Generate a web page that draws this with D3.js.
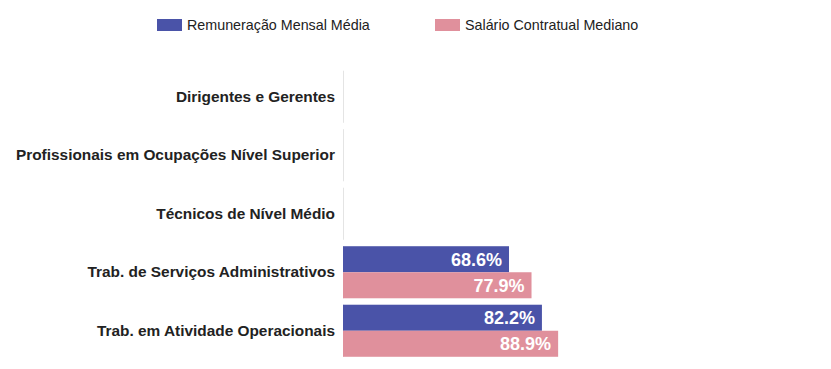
<!DOCTYPE html>
<html><head><meta charset="utf-8">
<script src="https://cdn.jsdelivr.net/npm/d3@7"></script>
<style>
html,body{margin:0;padding:0;background:#fff;}
svg{display:block;font-family:"Liberation Sans",Arial,sans-serif;}
</style></head>
<body><svg id="chart" width="831" height="369"></svg>
<script>
const categories = [
  "Dirigentes e Gerentes",
  "Profissionais em Ocupações Nível Superior",
  "Técnicos de Nível Médio",
  "Trab. de Serviços Administrativos",
  "Trab. em Atividade Operacionais"
];
const seriesNames = ["Remuneração Mensal Média", "Salário Contratual Mediano"];
const remuneracao = [null, null, null, 68.6, 82.2];
const salario = [null, null, null, 77.9, 88.9];
const colors = ["#4a53a8", "#e0909c"];

const svg = d3.select("#chart");
const x = d3.scaleLinear().domain([0, 200]).range([343, 827]);
const y = d3.scaleBand().domain(categories).range([67.5, 360]).paddingInner(0.11).paddingOuter(0.055);
const sub = d3.scaleBand().domain(seriesNames).range([0, y.bandwidth()]);

const series = [remuneracao, salario];

// faint baseline per category
svg.append("g").selectAll("line").data(categories).join("line")
  .attr("x1", x(0) + 0.5).attr("x2", x(0) + 0.5)
  .attr("y1", d => y(d)).attr("y2", d => y(d) + y.bandwidth())
  .attr("stroke", "#e4e4e4").attr("stroke-width", 1);

const groups = svg.append("g").selectAll("g").data(categories).join("g")
  .attr("transform", d => `translate(0,${y(d)})`);

groups.each(function(cat, i) {
  const g = d3.select(this);
  seriesNames.forEach((s, j) => {
    const v = series[j][i];
    if (v == null) return;
    g.append("rect")
      .attr("x", x(0)).attr("y", sub(s))
      .attr("width", x(v) - x(0)).attr("height", sub.bandwidth())
      .attr("fill", colors[j]);
    g.append("text")
      .attr("x", x(v) - 7).attr("y", sub(s) + sub.bandwidth() / 2)
      .attr("dy", "0.36em").attr("text-anchor", "end")
      .attr("fill", "#fff").attr("font-weight", "bold").attr("font-size", 18)
      .text(v.toFixed(1) + "%");
  });
});

// category axis labels
const yAxis = d3.axisLeft(y).tickSize(0).tickPadding(8);
const ya = svg.append("g").attr("transform", `translate(${x(0)},0)`).call(yAxis);
ya.select(".domain").remove();
ya.selectAll("text").attr("font-size", 15.4).attr("font-weight", "bold")
  .attr("fill", "#222").attr("font-family", "'Liberation Sans',Arial,sans-serif");

// legend
const legendX = [157, 435];
const leg = svg.append("g").selectAll("g").data(seriesNames).join("g")
  .attr("transform", (d, i) => `translate(${legendX[i]},19)`);
leg.append("rect").attr("width", 25).attr("height", 12).attr("fill", (d, i) => colors[i]);
leg.append("text").attr("x", 30).attr("y", 6).attr("dy", "0.36em")
  .attr("font-size", 14.3).attr("fill", "#222").text(d => d);
</script></body></html>
